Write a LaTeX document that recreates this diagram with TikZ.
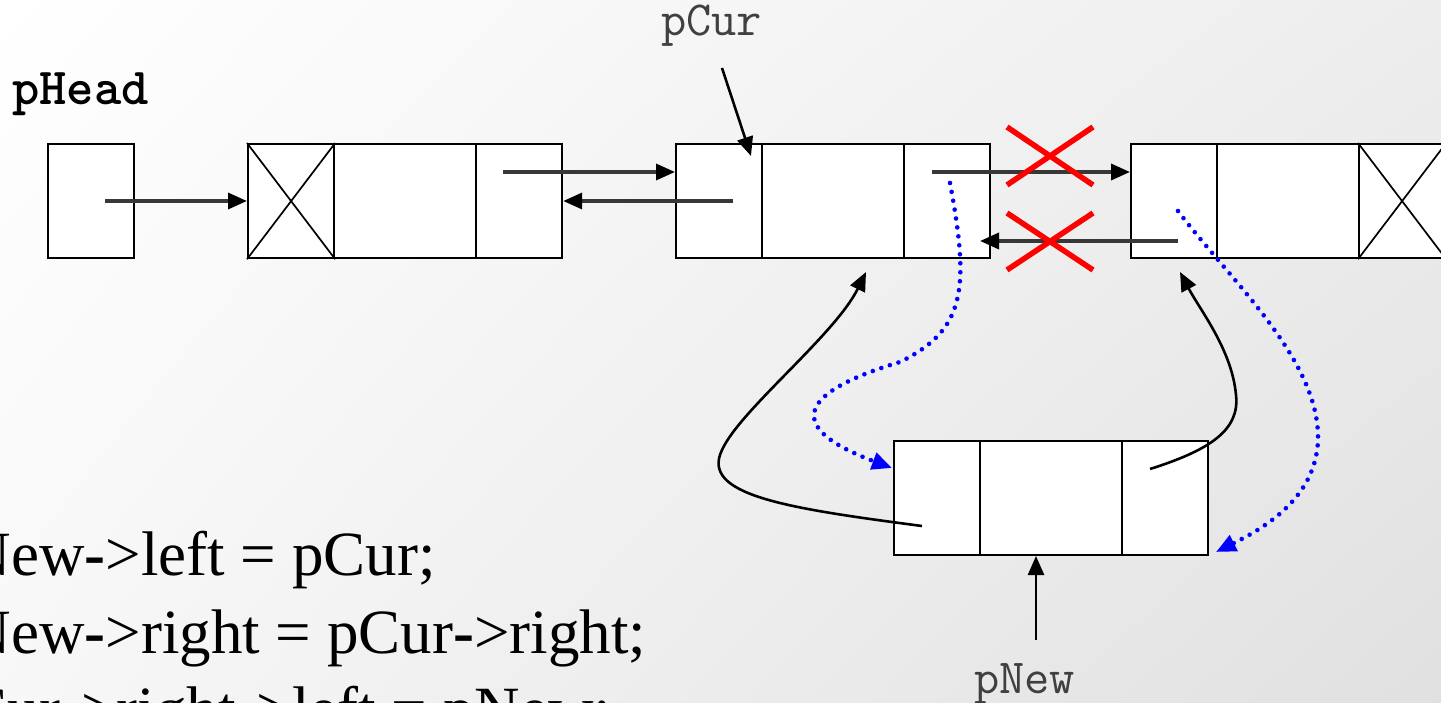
\documentclass[tikz,border=0pt]{standalone}
\usepackage{fontspec}
\setmainfont{Liberation Serif}
\usetikzlibrary{arrows.meta,shadings}
\begin{document}
\begin{tikzpicture}[x=1pt,y=-1pt,
  cell/.style={draw=black, fill=white, line width=2.2pt, inner sep=0pt, anchor=north west, minimum height=114pt},
  sidecell/.style={cell, minimum width=86pt},
  midcell/.style={cell, minimum width=142pt},
  ptr/.style={draw=black!78, line width=3.4pt, -{Triangle[length=19pt,width=16pt,color=black]}},
  link/.style={draw=black, line width=2.6pt, -{Triangle[length=19pt,width=16pt]}},
  dots/.style={draw=blue, line width=4.6pt, line cap=round, dash pattern=on 0pt off 9pt, -{Triangle[length=20pt,width=17pt]}},
  cross/.style={draw=red, line width=5.5pt},
  xline/.style={draw=black, line width=1.7pt},
  lbl/.style={inner sep=0pt, anchor=base west},
  monolbl/.style={lbl, text=black!75, font=\ttfamily\fontsize{49}{49}\selectfont},
  codeline/.style={lbl, font=\fontsize{63}{63}\selectfont}
]
\useasboundingbox (0,0) rectangle (1441,703);
\clip (0,0) rectangle (1441,703);
\shade[upper left=white, upper right=gray!14, lower left=gray!6, lower right=gray!24] (0,0) rectangle (1441,703);

% labels
\node[lbl, font=\ttfamily\bfseries\fontsize{52}{52}\selectfont] (phead) at (12,105) {pHead};
\node[monolbl] (pcur) at (661,36) {pCur};
\node[monolbl] (pnew) at (974,693) {pNew};

% head pointer box
\node[sidecell] (hd) at (47,143) {};
% node 1
\node[sidecell] (n1a) at (247,143) {};
\node[midcell] (n1b) at (333,143) {};
\node[sidecell] (n1c) at (475,143) {};
% node 2 (pCur)
\node[sidecell] (n2a) at (675,143) {};
\node[midcell] (n2b) at (761,143) {};
\node[sidecell] (n2c) at (903,143) {};
% node 3
\node[sidecell] (n3a) at (1130,143) {};
\node[midcell] (n3b) at (1216,143) {};
\node[sidecell] (n3c) at (1358,143) {};
% new node
\node[sidecell] (na) at (893,440) {};
\node[midcell] (nb) at (979,440) {};
\node[sidecell] (nc) at (1121,440) {};

% null crosses
\draw[xline] (n1a.north west) -- (n1a.south east) (n1a.north east) -- (n1a.south west);
\draw[xline] (n3c.north west) -- (n3c.south east) (n3c.north east) -- (n3c.south west);

% start / end points
\coordinate (s1) at (105,201);
\coordinate (s2) at (503,172);
\coordinate (s3) at (733,201);
\coordinate (s4) at (932,172);
\coordinate (s5) at (1178,241);
\coordinate (t5) at (980,241);
\coordinate (pcs) at (722,68);
\coordinate (pct) at (751,156);
\coordinate (pns) at (1036,640);
\coordinate (pnt) at (1036,556);

% straight links
\draw[ptr] (s1) -- (n1a.west |- s1);
\draw[ptr] (s2) -- (n2a.west |- s2);
\draw[ptr] (s3) -- (n1c.east |- s3);
\draw[ptr] (s4) -- (n3a.west |- s4);
\draw[ptr] (s5) -- (t5);
\draw[link] (pcs) -- (pct);
\draw[link] (pns) -- (pnt);

% broken links
\draw[cross] (1007,127) -- (1093,185) (1007,185) -- (1093,127);
\draw[cross] (1007,213) -- (1093,270) (1007,270) -- (1093,213);

% new links (black curves)
\coordinate (c1s) at (922,526);
\coordinate (c1t) at (866,272);
\draw[link] (c1s) .. controls (785,508) and (700,495) .. (722,450) .. controls (740,410) and (835,335) .. (c1t);
\coordinate (c2s) at (1150,469);
\coordinate (c2t) at (1180,272);
\draw[link] (c2s) .. controls (1210,450) and (1240,430) .. (1236,395) .. controls (1232,350) and (1200,310) .. (c2t);

% new links (blue dotted)
\coordinate (d1s) at (950,183);
\coordinate (d1t) at (892,468);
\draw[dots] (d1s) .. controls (970,290) and (965,330) .. (900,362) .. controls (790,395) and (790,430) .. (d1t);
\coordinate (d2s) at (1178,211);
\coordinate (d2t) at (1216,552);
\draw[dots] (d2s) .. controls (1230,280) and (1320,360) .. (1318,440) .. controls (1316,500) and (1260,530) .. (d2t);

% code
\node[codeline] (code1) at (-66,575) {pNew{\bfseries -}>left = pCur;};
\node[codeline] (code2) at (-66,653) {pNew{\bfseries -}>right = pCur{\bfseries -}>right;};
\node[codeline] (code3) at (-66,730) {pCur{\bfseries -}>right{\bfseries -}>left = pNew;};
\end{tikzpicture}
\end{document}
